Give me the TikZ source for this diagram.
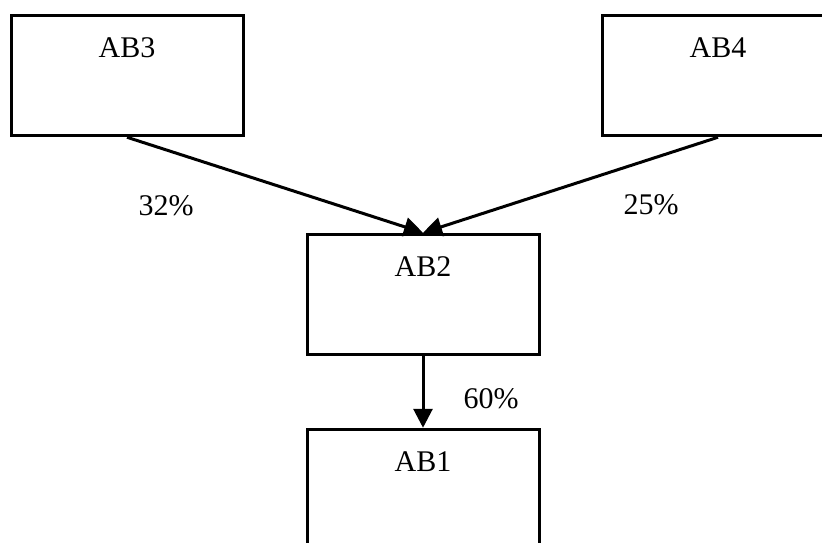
\documentclass[tikz,border=0pt]{standalone}
\usepackage{fontspec}
\setmainfont{Liberation Serif}
\usetikzlibrary{arrows.meta}
\begin{document}
\begin{tikzpicture}[x=1pt,y=-1pt,
  box/.style={draw, line width=3pt, inner sep=0pt, text width=232pt, align=center,
    text height=42pt, text depth=78.5pt, font=\fontsize{30}{36}\selectfont},
  flow/.style={line width=3pt, -{Triangle[length=19pt,width=19pt]}},
  pct/.style={anchor=base, inner sep=0pt, font=\fontsize{30}{36}\selectfont}]
\useasboundingbox (0,0) rectangle (822,542);
\clip (0,0) rectangle (822,542);
\node[box] (ab3) at (127,75.5) {AB3};
\node[box] (ab4) at (718,75.5) {AB4};
\node[box] (ab2) at (423,294.5) {AB2};
\node[box] (ab1) at (423,489.5) {AB1};
\draw[flow] (ab3.south) -- (ab2.north);
\draw[flow] (ab4.south) -- (ab2.north);
\draw[flow] (ab2.south) -- (ab1.north);
\node[pct] (p32) at (166,215) {32\%};
\node[pct] (p25) at (651,214) {25\%};
\node[pct] (p60) at (491,408) {60\%};
\end{tikzpicture}
\end{document}
